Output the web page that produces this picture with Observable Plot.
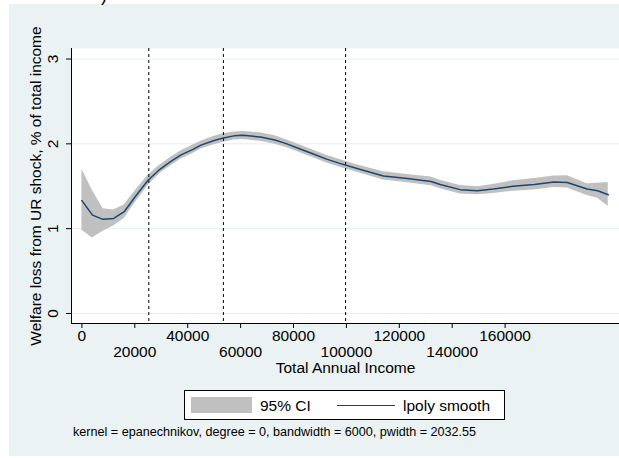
<!DOCTYPE html>
<html>
<head>
<meta charset="utf-8">
<script src="https://cdn.jsdelivr.net/npm/d3@7"></script>
<script src="https://cdn.jsdelivr.net/npm/@observablehq/plot@0.6"></script>
<style>
  html, body { margin: 0; padding: 0; background: #ffffff; }
  body { width: 619px; height: 458px; position: relative; overflow: hidden;
         font-family: "Liberation Sans", Arial, Helvetica, sans-serif; color: #000; }
  #bg { position: absolute; left: 9px; top: 4px; width: 610px; height: 452px; background: #eaf2f3; }
  #frag { position: absolute; left: 101px; top: -14px; font-size: 18px; line-height: 18px; }
  #chart { position: absolute; left: 0; top: 0; }
  #legend { position: absolute; left: 184px; top: 390px; width: 321px; height: 30px;
            box-sizing: border-box; background: #fff; border: 1px solid #000; font-size: 15.5px; }
  #legend .sw { position: absolute; left: 6px; top: 6px; width: 61px; height: 16px; background: #c0c0c0; }
  #legend .t1 { position: absolute; left: 75px; top: 6px; line-height: 17px; }
  #legend .ln { position: absolute; left: 152px; top: 14px; width: 58px; height: 0; border-top: 1.5px solid #1a476f; }
  #legend .t2 { position: absolute; left: 218px; top: 6px; line-height: 17px; }
  #note { position: absolute; left: 73px; top: 425px; font-size: 12.6px; line-height: 14px; white-space: nowrap; }
</style>
</head>
<body>
<div id="bg"></div>
<div id="frag">)</div>
<div id="chart"></div>
<div id="legend">
  <div class="sw"></div><div class="t1">95% CI</div>
  <div class="ln"></div><div class="t2">lpoly smooth</div>
</div>
<div id="note"></div>
<script>
// ---- data ----
const income = [0, 4000, 8000, 12000, 16000, 20000, 25000, 29500, 33500, 37500, 42000, 45000, 50000, 53500, 57500, 61000, 67500, 73000, 77500, 82500, 87500, 92500, 97500, 105000, 114000, 123000, 132000, 135500, 143000, 149500, 155500, 163000, 171000, 178500, 183500, 191000, 195000, 199000];
const smooth = [1.33, 1.16, 1.11, 1.12, 1.20, 1.37, 1.57, 1.70, 1.79, 1.87, 1.935, 1.985, 2.04, 2.07, 2.094, 2.10, 2.08, 2.045, 2.00, 1.94, 1.88, 1.82, 1.77, 1.70, 1.62, 1.59, 1.556, 1.52, 1.46, 1.447, 1.467, 1.50, 1.52, 1.55, 1.545, 1.467, 1.447, 1.40];
const ciLow  = [0.98, 0.89, 0.97, 1.03, 1.12, 1.30, 1.51, 1.65, 1.74, 1.82, 1.885, 1.94, 1.99, 2.02, 2.045, 2.05, 2.03, 1.995, 1.955, 1.895, 1.835, 1.775, 1.725, 1.655, 1.575, 1.54, 1.505, 1.47, 1.41, 1.40, 1.415, 1.44, 1.455, 1.485, 1.48, 1.39, 1.36, 1.26];
const ciHigh = [1.70, 1.45, 1.235, 1.22, 1.28, 1.44, 1.63, 1.75, 1.84, 1.92, 1.985, 2.03, 2.09, 2.12, 2.14, 2.145, 2.13, 2.095, 2.045, 1.985, 1.925, 1.865, 1.815, 1.745, 1.67, 1.64, 1.61, 1.57, 1.51, 1.495, 1.52, 1.565, 1.59, 1.62, 1.625, 1.53, 1.535, 1.545];
const cutoffs = [25300, 53500, 99700];
const yTicks = [0, 1, 2, 3];
const xTicks = [0, 20000, 40000, 60000, 80000, 100000, 120000, 140000, 160000];
const xLabelsRow1 = [0, 40000, 80000, 120000, 160000];
const xLabelsRow2 = [20000, 60000, 100000, 140000];
const xTitle = "Total Annual Income";
const yTitle = "Welfare loss from UR shock, % of total income";
const noteText = "kernel = epanechnikov, degree = 0, bandwidth = 6000, pwidth = 2032.55";

const rows = income.map((x, i) => ({x, y: smooth[i], lo: ciLow[i], hi: ciHigh[i]}));
const font = '"Liberation Sans", Arial, Helvetica, sans-serif';
const fs = 15.5;

const plot = Plot.plot({
  width: 619,
  height: 385,
  marginTop: 48,
  marginLeft: 71,
  marginRight: 0,
  marginBottom: 62,
  style: {background: "transparent", fontFamily: font, fontSize: fs + "px", color: "#000", overflow: "visible"},
  x: {domain: [-3930, 203250]},
  y: {domain: [-0.118, 3.124]},
  marks: [
    Plot.frame({fill: "white", stroke: null}),
    Plot.gridY(yTicks, {stroke: "#e3eef0", strokeOpacity: 1, strokeWidth: 1}),
    Plot.areaY(rows, {x: "x", y1: "lo", y2: "hi", fill: "#c0c0c0", curve: "linear"}),
    Plot.ruleX(cutoffs, {stroke: "#000", strokeWidth: 1, strokeDasharray: "3,3"}),
    Plot.lineY(rows, {x: "x", y: "y", stroke: "#1a476f", strokeWidth: 1.5}),
    Plot.frame({anchor: "left", stroke: "#000"}),
    Plot.frame({anchor: "bottom", stroke: "#000"}),
    Plot.axisY(yTicks, {tickSize: 5, tickFormat: () => "", label: null, stroke: "#000"}),
    Plot.axisX(xTicks, {tickSize: 5, tickFormat: () => "", label: null, stroke: "#000"}),
    Plot.text(yTicks, {y: d => d, text: d => String(d), frameAnchor: "left", textAnchor: "middle", dx: -18.5, rotate: -90, fontSize: fs, fill: "#000"}),
    Plot.text([yTitle], {text: d => d, frameAnchor: "left", textAnchor: "middle", dx: -35, rotate: -90, fontSize: fs, fill: "#000"}),
    Plot.text(xLabelsRow1, {x: d => d, text: d => String(d), frameAnchor: "bottom", textAnchor: "middle", dy: 17, fontSize: fs, fill: "#000"}),
    Plot.text(xLabelsRow2, {x: d => d, text: d => String(d), frameAnchor: "bottom", textAnchor: "middle", dy: 33, fontSize: fs, fill: "#000"}),
    Plot.text([xTitle], {text: d => d, frameAnchor: "bottom", textAnchor: "middle", dy: 49.5, fontSize: fs, fill: "#000"})
  ]
});
document.getElementById("chart").appendChild(plot);
document.getElementById("note").textContent = noteText;
</script>
</body>
</html>
